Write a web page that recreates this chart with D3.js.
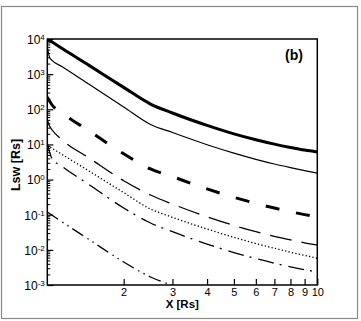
<!DOCTYPE html>
<html>
<head>
<meta charset="utf-8">
<script src="https://cdnjs.cloudflare.com/ajax/libs/d3/7.8.5/d3.min.js"></script>
<style>
  body { margin: 0; background: #fff; }
  svg { display: block; font-family: "Liberation Sans", Arial, sans-serif; }
</style>
</head>
<body>
<svg id="chart" width="361" height="321"></svg>
<script>
// values (log-log)
var xValues    = [1.06, 1.08, 1.1, 1.2, 1.5, 2, 2.5, 3, 4, 5, 6, 7, 8, 9, 10];
var thickSolid = [10200, 9060, 8300, 5330, 1774, 420, 141, 78.4, 34.8, 20.0, 13.6, 10.2, 8.2, 6.9, 6.1];
var thinSolid  = [6000, 3000, 2500, 1629, 514, 116, 36.9, 21.8, 9.82, 5.66, 3.77, 2.77, 2.19, 1.80, 1.53];
var thickDash  = [223, 172, 137, 77.3, 24.3, 5.41, 2.0, 1.21, 0.542, 0.313, 0.210, 0.155, 0.122, 0.1007, 0.0861];
var thinDash   = [49.5, 33.4, 26.6, 13.3, 4.13, 0.922, 0.364, 0.201, 0.0877, 0.0496, 0.0330, 0.0243, 0.0192, 0.0158, 0.0136];
var dotted     = [9.6, 8.7, 7.9, 5.16, 1.75, 0.426, 0.145, 0.0843, 0.0392, 0.0228, 0.0151, 0.0111, 0.00857, 0.00695, 0.00582];
var dashDot    = [11.0, 6.08, 4.10, 2.35, 0.719, 0.155, 0.0581, 0.0328, 0.01466, 0.0084, 0.00563, 0.00417, 0.00329, 0.00272, 0.00234];
var dashDotDot = [0.119, 0.108, 0.098, 0.0619, 0.0197, 0.00451, 0.00169, 0.000966, 0.00044, null, null, null, null, null, null];

var xTicks = [2, 3, 4, 5, 6, 7, 8, 9, 10];
var yTicks = [1e-3, 1e-2, 1e-1, 1e0, 1e1, 1e2, 1e3, 1e4];
var yExponents = ["-3", "-2", "-1", "0", "1", "2", "3", "4"];

var plotL = 47.3, plotR = 317.3, plotT = 39, plotB = 285;

var x = d3.scaleLog().domain([1.06, 10]).range([plotL, plotR]);
var y = d3.scaleLog().domain([1e-3, 1e4]).range([plotB, plotT]);

var svg = d3.select('#chart');

// outer grey frame
svg.append('rect')
  .attr('x', 1.5).attr('y', 6.5)
  .attr('width', 356).attr('height', 312)
  .attr('fill', 'none')
  .attr('stroke', '#8a8a8a')
  .attr('stroke-width', 1.2);

svg.append('clipPath').attr('id', 'plotClip')
  .append('rect')
  .attr('x', plotL).attr('y', plotT)
  .attr('width', plotR - plotL).attr('height', plotB - plotT);

var series = [
  {values: thickSolid, width: 3, dash: null},
  {values: thinSolid, width: 1.2, dash: null},
  {values: thickDash, width: 3, dash: '14,17'},
  {values: thinDash, width: 1.3, dash: '22,10'},
  {values: dotted, width: 1.3, dash: '1.3,2.2'},
  {values: dashDot, width: 1.3, dash: '16,6,2,7'},
  {values: dashDotDot, width: 1.3, dash: '13,5,1.5,4.5,1.5,4.5'}
];

var line = d3.line()
  .defined(function(d) { return d[1] != null; })
  .x(function(d) { return x(d[0]); })
  .y(function(d) { return y(d[1]); })
  .curve(d3.curveMonotoneX);

var lines = svg.append('g').attr('clip-path', 'url(#plotClip)');

lines.selectAll('path')
  .data(series)
  .enter()
  .append('path')
  .attr('d', function(s) {
    return line(xValues.map(function(v, i) { return [v, s.values[i]]; }));
  })
  .attr('fill', 'none')
  .attr('stroke', '#000')
  .attr('stroke-width', function(s) { return s.width; })
  .attr('stroke-dasharray', function(s) { return s.dash; })
  .attr('stroke-linejoin', 'round');

// minor y ticks 2..9 in each decade
var yMinor = [];
for (var k = -3; k < 4; k++) {
  for (var m = 2; m <= 9; m++) yMinor.push(m * Math.pow(10, k));
}

svg.append('g')
  .attr('transform', 'translate(' + plotL + ',0)')
  .call(d3.axisLeft(y).tickValues(yMinor).tickSize(-3).tickSizeOuter(0).tickFormat(''))
  .call(function(g) { g.select('.domain').remove(); })
  .selectAll('line').attr('stroke-width', 1);

var yAxis = svg.append('g')
  .attr('transform', 'translate(' + plotL + ',0)')
  .call(d3.axisLeft(y).tickValues(yTicks).tickSize(-6).tickSizeOuter(0).tickPadding(2.5).tickFormat(''))
  .attr('font-family', null).attr('font-size', 12);

yAxis.select('.domain').remove();
yAxis.selectAll('line').attr('stroke-width', 1.2);
yAxis.selectAll('.tick text').each(function(d, i) {
  var t = d3.select(this);
  t.text('10').attr('dy', '0.36em').attr('fill', '#000');
  t.append('tspan').attr('dy', '-0.5em').attr('font-size', 8).text(yExponents[i]);
});

var xAxis = svg.append('g')
  .attr('transform', 'translate(0,' + plotB + ')')
  .call(d3.axisBottom(x).tickValues(xTicks).tickSize(-6).tickSizeOuter(0).tickPadding(3).tickFormat(d3.format('d')))
  .attr('font-family', null).attr('font-size', 11);

xAxis.select('.domain').remove();
xAxis.selectAll('line').attr('stroke-width', 1.2);
xAxis.selectAll('text').attr('fill', '#000');

// plot frame
svg.append('rect')
  .attr('x', plotL).attr('y', plotT)
  .attr('width', plotR - plotL).attr('height', plotB - plotT)
  .attr('fill', 'none')
  .attr('stroke', '#000')
  .attr('stroke-width', 1.5);

svg.append('text')
  .attr('x', (plotL + plotR) / 2).attr('y', 307.5)
  .attr('text-anchor', 'middle')
  .attr('font-weight', 'bold').attr('font-size', 11.5)
  .text('X [Rs]');

svg.append('text')
  .attr('transform', 'translate(19.5,' + ((plotT + plotB) / 2 + 3) + ') rotate(-90)')
  .attr('text-anchor', 'middle')
  .attr('font-weight', 'bold').attr('font-size', 12.5)
  .text('Lsw [Rs]');

svg.append('text')
  .attr('x', 285).attr('y', 60)
  .attr('font-weight', 'bold').attr('font-size', 14)
  .text('(b)');
</script>
</body>
</html>
